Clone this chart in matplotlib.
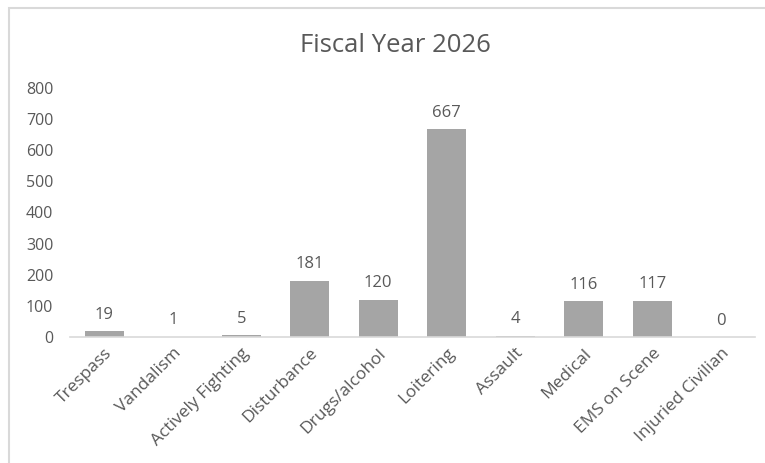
import matplotlib
matplotlib.use("Agg")
import matplotlib.pyplot as plt
from matplotlib.patches import Rectangle

categories = ["Trespass", "Vandalism", "Actively Fighting", "Disturbance",
              "Drugs/alcohol", "Loitering", "Assault", "Medical",
              "EMS on Scene", "Injuried Civilian"]
counts = [19, 1, 5, 181, 120, 667, 4, 116, 117, 0]
y_ticks = [0, 100, 200, 300, 400, 500, 600, 700, 800]
title = "Fiscal Year 2026"

text_color = "#595959"
bar_color = "#A5A5A5"

plt.rcParams["font.family"] = ["Open Sans", "DejaVu Sans"]

W, H = 765, 463
fig = plt.figure(figsize=(W / 100, H / 100), dpi=100)

# chart border
fig.patches.append(Rectangle((9 / W, -0.1), 1.2, 1 - 7.5 / H + 0.1,
                             transform=fig.transFigure, fill=False,
                             edgecolor="#D9D9D9", linewidth=1.5))

left, right = 70 / W, 755 / W
bottom, top = 1 - 337 / H, 1 - 88 / H
ax = fig.add_axes([left, bottom, right - left, top - bottom])

x = list(range(len(categories)))
bars = ax.bar(x, counts, width=0.57, color=bar_color)

for xi, v in zip(x, counts):
    ax.annotate(str(v), (xi, v), xytext=(0, 6), textcoords="offset points",
                ha="center", va="bottom", fontsize=12, color=text_color)

ax.set_xlim(-0.5, len(categories) - 0.5)
ax.set_ylim(0, 800)
ax.set_yticks(y_ticks)
ax.set_yticklabels([str(t) for t in y_ticks])
ax.set_xticks(x)
ax.set_xticklabels(categories, rotation=45, ha="right", rotation_mode="anchor")

ax.tick_params(axis="y", length=0, pad=12, labelsize=11.5, labelcolor=text_color)
ax.tick_params(axis="x", length=0, pad=6, labelsize=12.5, labelcolor=text_color)

for s in ["top", "right", "left"]:
    ax.spines[s].set_visible(False)
ax.spines["bottom"].set_color("#D9D9D9")
ax.spines["bottom"].set_linewidth(1.2)

fig.text(395 / W, 1 - 45 / H, title, ha="center", va="center",
         fontsize=18.5, color=text_color)

fig.savefig("out.png", dpi=100)
